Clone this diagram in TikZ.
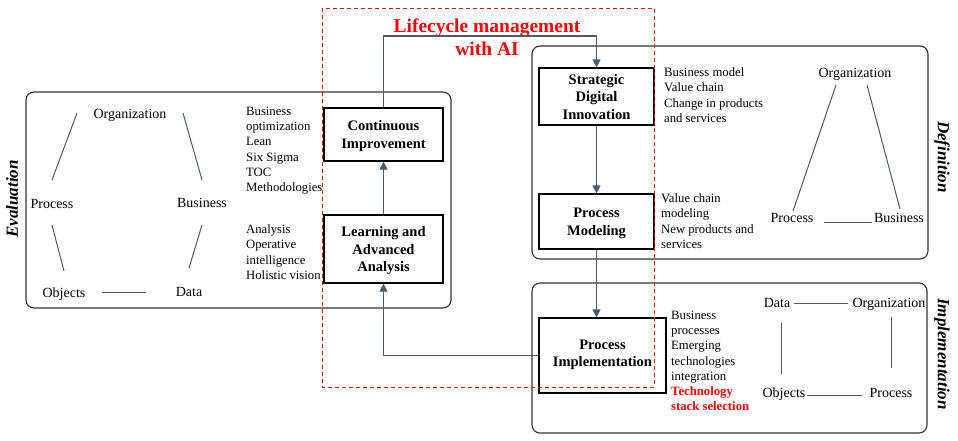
\documentclass[tikz,border=0pt]{standalone}
\usepackage{fontspec}
\setmainfont{Liberation Serif}
\usetikzlibrary{arrows.meta}
\definecolor{conn}{HTML}{4A5A70}
\definecolor{framecol}{HTML}{333333}
\begin{document}
\begin{tikzpicture}[x=1pt,y=-1pt,
  container/.style={draw=framecol, line width=1.1pt, rounded corners=8pt},
  stepbox/.style={draw=black, line width=1.2pt, inner sep=0pt, align=center, text depth=0pt,
    font=\bfseries\fontsize{14.5}{17.5}\selectfont},
  flow/.style={draw=conn, line width=1.2pt, -{Triangle[length=8pt,width=8pt]}},
  relline/.style={draw=conn, line width=1pt},
  lbl/.style={inner sep=0pt, anchor=base, font=\fontsize{14}{16}\selectfont},
  notes/.style={inner sep=0pt, anchor=north west, align=left,
    font=\fontsize{12.7}{15.3}\selectfont},
  side/.style={inner sep=0pt, font=\bfseries\itshape\fontsize{17}{20}\selectfont},
  aiframe/.style={draw=red, line width=1pt, dash pattern=on 4pt off 3pt}
]
\useasboundingbox (0,0) rectangle (958,440);

% containers
\draw[container] (26,92) rectangle (451,308);
\draw[container] (532,46) rectangle (928,259);
\draw[container] (532,283) rectangle (927,433);

% side labels
\node[side, rotate=90] (evalside) at (12,199) {Evaluation};
\node[side, rotate=-90] (defside) at (942,157) {Definition};
\node[side, rotate=-90] (implside) at (942,354) {Implementation};

% main step boxes
\node[stepbox, minimum width=119pt, minimum height=53pt] (ci) at (383.5,134.5) {Continuous\\Improvement};
\node[stepbox, minimum width=119pt, minimum height=68pt] (laa) at (383.5,249) {Learning and\\Advanced\\Analysis};
\node[stepbox, minimum width=115pt, minimum height=57pt] (sdi) at (596.5,96.5) {Strategic\\Digital\\Innovation};
\node[stepbox, minimum width=115pt, minimum height=55pt] (pm) at (596.5,221.5) {Process\\Modeling};
\node[stepbox, text depth=5pt, font=\bfseries\fontsize{14.5}{16.7}\selectfont, minimum width=127pt, minimum height=75pt] (pi) at (602.5,355.5) {Process\\Implementation};

% AI frame and title
\draw[aiframe] (322,8) rectangle (654,387);
\node[inner sep=0pt, align=center, text=red, font=\bfseries\fontsize{19.5}{23}\selectfont] (title) at (487,37) {Lifecycle management\\with AI};

% connectors
\coordinate (topturn) at (596.5,36);
\draw[flow] (laa.north) -- (ci.south);
\draw[flow] (ci.north) |- (topturn) -- (sdi.north);
\draw[flow] (sdi.south) -- (pm.north);
\draw[flow] (pm.south) -- (pm.south |- pi.north);
\draw[flow] (pi.west) -| (laa.south);

% notes
\node[notes] (evn1) at (246,106.5) {Business\\optimization\\Lean\\Six Sigma\\TOC\\Methodologies};
\node[notes] (evn2) at (246,224.5) {Analysis\\Operative\\intelligence\\Holistic vision};
\node[notes] (dfn1) at (664,67.5) {Business model\\Value chain\\Change in products\\and services};
\node[notes] (dfn2) at (661,193.5) {Value chain\\modeling\\New products and\\services};
\node[notes] (imn1) at (671,310.5) {Business\\processes\\Emerging\\technologies\\integration\\\textcolor{red}{\bfseries Technology}\\\textcolor{red}{\bfseries stack selection}};

% evaluation relation diagram
\node[lbl] (eOrg) at (130,118.6) {Organization};
\node[lbl] (eProc) at (52,208.6) {Process};
\node[lbl] (eBus) at (202,207.6) {Business};
\node[lbl] (eObj) at (64,297.6) {Objects};
\node[lbl] (eData) at (189,296.6) {Data};
\coordinate (e1a) at (77,113); \coordinate (e1b) at (52,180);
\coordinate (e2a) at (183,113); \coordinate (e2b) at (202,180);
\coordinate (e3a) at (52,225); \coordinate (e3b) at (64,271);
\coordinate (e4a) at (202,225); \coordinate (e4b) at (189,268);
\coordinate (e5a) at (102,292); \coordinate (e5b) at (146,292);
\draw[relline] (e1a) -- (e1b);
\draw[relline] (e2a) -- (e2b);
\draw[relline] (e3a) -- (e3b);
\draw[relline] (e4a) -- (e4b);
\draw[relline] (e5a) -- (e5b);

% definition relation diagram
\node[lbl] (dOrg) at (855,77.6) {Organization};
\node[lbl] (dProc) at (792,222.6) {Process};
\node[lbl] (dBus) at (899,222.6) {Business};
\coordinate (d1a) at (836,85); \coordinate (d1b) at (793,211);
\coordinate (d2a) at (867,85); \coordinate (d2b) at (900,209);
\coordinate (d3a) at (824,222); \coordinate (d3b) at (872,222);
\draw[relline] (d1a) -- (d1b);
\draw[relline] (d2a) -- (d2b);
\draw[relline] (d3a) -- (d3b);

% implementation relation diagram
\node[lbl] (iData) at (777,307.6) {Data};
\node[lbl] (iOrg) at (889,307.6) {Organization};
\node[lbl] (iObj) at (784,397.6) {Objects};
\node[lbl] (iProc) at (891,397.6) {Process};
\coordinate (i1a) at (794,303); \coordinate (i1b) at (848,303);
\coordinate (i2a) at (781,323); \coordinate (i2b) at (781,374);
\coordinate (i3a) at (891,317); \coordinate (i3b) at (891,368);
\coordinate (i4a) at (807,395); \coordinate (i4b) at (862,395);
\draw[relline] (i1a) -- (i1b);
\draw[relline] (i2a) -- (i2b);
\draw[relline] (i3a) -- (i3b);
\draw[relline] (i4a) -- (i4b);
\end{tikzpicture}
\end{document}
